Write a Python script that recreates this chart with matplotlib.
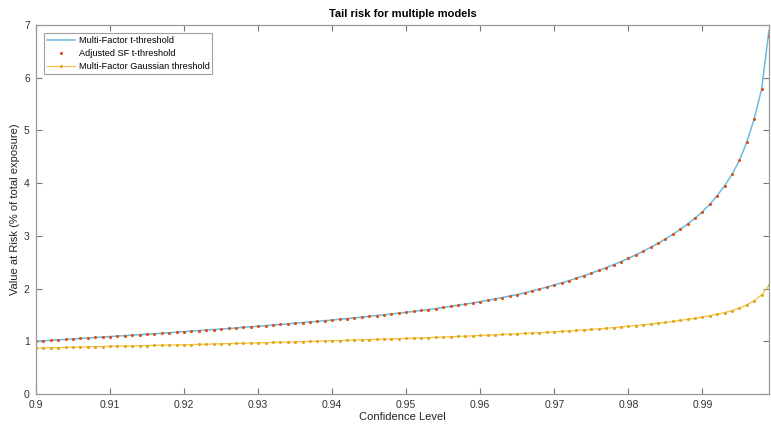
import matplotlib.pyplot as plt
import numpy as np

# confidence levels 0.900 .. 0.999
conf = np.round(np.arange(900, 1000) / 1000.0, 3)

t_mf = [1.000, 1.009, 1.018, 1.027, 1.036, 1.045, 1.054, 1.063, 1.072, 1.081,
        1.090, 1.099, 1.108, 1.117, 1.126, 1.135, 1.144, 1.153, 1.163, 1.173,
        1.183, 1.193, 1.203, 1.213, 1.223, 1.233, 1.243, 1.253, 1.264, 1.275,
        1.286, 1.297, 1.308, 1.319, 1.331, 1.343, 1.355, 1.367, 1.379, 1.392,
        1.405, 1.418, 1.431, 1.445, 1.459, 1.473, 1.488, 1.503, 1.518, 1.534,
        1.550, 1.567, 1.585, 1.603, 1.622, 1.642, 1.662, 1.683, 1.705, 1.728,
        1.752, 1.777, 1.803, 1.830, 1.858, 1.887, 1.920, 1.955, 1.991, 2.029,
        2.068, 2.109, 2.152, 2.197, 2.244, 2.293, 2.344, 2.397, 2.453, 2.512,
        2.574, 2.639, 2.708, 2.781, 2.858, 2.940, 3.028, 3.122, 3.224, 3.335,
        3.458, 3.600, 3.765, 3.950, 4.165, 4.430, 4.780, 5.220, 5.780, 6.900]

# adjusted single factor t: sits on the multi-factor t curve
t_sf = [1.000, 1.009, 1.018, 1.027, 1.036, 1.045, 1.054, 1.063, 1.072, 1.081,
        1.090, 1.099, 1.108, 1.117, 1.126, 1.135, 1.144, 1.153, 1.163, 1.173,
        1.183, 1.193, 1.203, 1.213, 1.223, 1.233, 1.243, 1.253, 1.264, 1.275,
        1.286, 1.297, 1.308, 1.319, 1.331, 1.343, 1.355, 1.367, 1.379, 1.392,
        1.405, 1.418, 1.431, 1.445, 1.459, 1.473, 1.488, 1.503, 1.518, 1.534,
        1.550, 1.567, 1.585, 1.603, 1.622, 1.642, 1.662, 1.683, 1.705, 1.728,
        1.752, 1.777, 1.803, 1.830, 1.858, 1.887, 1.920, 1.955, 1.991, 2.029,
        2.068, 2.109, 2.152, 2.197, 2.244, 2.293, 2.344, 2.397, 2.453, 2.512,
        2.574, 2.639, 2.708, 2.781, 2.858, 2.940, 3.028, 3.122, 3.224, 3.335,
        3.458, 3.600, 3.765, 3.950, 4.165, 4.430, 4.780, 5.220, 5.780, 6.790]

gauss = [0.870, 0.873, 0.877, 0.880, 0.884, 0.887, 0.891, 0.894, 0.898, 0.901,
         0.905, 0.908, 0.911, 0.914, 0.917, 0.920, 0.923, 0.926, 0.929, 0.932,
         0.935, 0.938, 0.942, 0.945, 0.949, 0.952, 0.956, 0.959, 0.963, 0.966,
         0.970, 0.974, 0.978, 0.982, 0.986, 0.990, 0.994, 0.998, 1.002, 1.006,
         1.010, 1.014, 1.019, 1.023, 1.028, 1.032, 1.037, 1.041, 1.046, 1.050,
         1.055, 1.060, 1.065, 1.070, 1.075, 1.081, 1.086, 1.092, 1.098, 1.104,
         1.110, 1.116, 1.123, 1.129, 1.136, 1.143, 1.150, 1.157, 1.164, 1.172,
         1.180, 1.188, 1.197, 1.206, 1.215, 1.225, 1.236, 1.247, 1.259, 1.272,
         1.285, 1.299, 1.313, 1.328, 1.344, 1.360, 1.378, 1.396, 1.416, 1.437,
         1.460, 1.486, 1.514, 1.545, 1.583, 1.630, 1.690, 1.770, 1.880, 2.060]

xticks = [0.9, 0.91, 0.92, 0.93, 0.94, 0.95, 0.96, 0.97, 0.98, 0.99]
xticklabels = ['0.9', '0.91', '0.92', '0.93', '0.94', '0.95', '0.96', '0.97', '0.98', '0.99']
yticks = [0, 1, 2, 3, 4, 5, 6, 7]

plt.rcParams['font.family'] = ['Liberation Sans', 'DejaVu Sans']

fig = plt.figure(figsize=(7.71, 4.26), dpi=100)
ax = fig.add_axes([0.0467, 0.0751, 0.9507, 0.8662])

ax.plot(conf, t_mf, color='#6DBBE0', lw=1.1, label='Multi-Factor t-threshold')
ax.plot(conf, t_sf, ls='none', marker='.', ms=2.5, color='#D95319',
        label='Adjusted SF t-threshold')
ax.plot(conf, gauss, color='#F0C24A', lw=0.9, marker='.', ms=2.5,
        mfc='#E3A81A', mec='#E3A81A', label='Multi-Factor Gaussian threshold')

ax.set_xlim(0.9, 0.999)
ax.set_ylim(0, 7)
ax.set_xticks(xticks)
ax.set_xticklabels(xticklabels)
ax.set_yticks(yticks)

ax.tick_params(direction='in', top=True, right=True, length=4, width=0.8,
               colors='#777777', labelcolor='#333333', labelsize=7.5, pad=4.5)
for s in ax.spines.values():
    s.set_color('#999999')
    s.set_linewidth(0.9)

ax.set_xlabel('Confidence Level', fontsize=8, color='#222222', labelpad=1)
ax.set_ylabel('Value at Risk (% of total exposure)', fontsize=8, color='#222222', labelpad=3)
ax.set_title('Tail risk for multiple models', fontsize=8, fontweight='bold', pad=6)

leg = ax.legend(loc='upper left', fontsize=6.6, frameon=True, fancybox=False,
                borderpad=0.3, labelspacing=0.45, handlelength=3.1,
                handletextpad=0.35, borderaxespad=0.9)
leg.get_frame().set_edgecolor('#888888')
leg.get_frame().set_linewidth(0.8)

fig.savefig('out.png', dpi=100)
